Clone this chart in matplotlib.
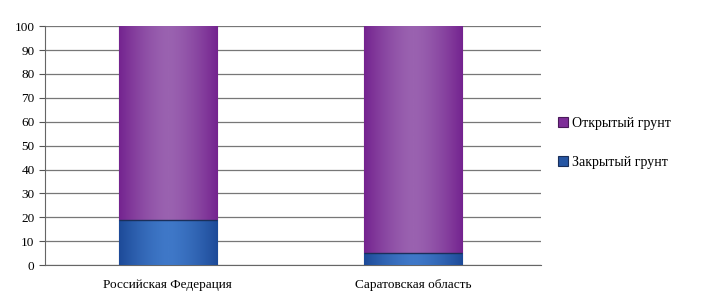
import numpy as np
import matplotlib.pyplot as plt
from matplotlib.colors import LinearSegmentedColormap

plt.rcParams['font.family'] = ['Liberation Serif', 'DejaVu Serif']

categories = ['Российская Федерация', 'Саратовская область']
closed_ground = [19, 5]      # Закрытый грунт
open_ground = [81, 95]       # Открытый грунт

fig = plt.figure(figsize=(7.09, 3.04), dpi=100)
ax = fig.add_axes([0.0635, 0.128, 0.699, 0.786])

x = np.arange(len(categories))
width = 0.4

bars_closed = ax.bar(x, closed_ground, width, color='#2656a3', edgecolor='#1a2f5a',
                     linewidth=0.8, label='Закрытый грунт', zorder=3)
bars_open = ax.bar(x, open_ground, width, bottom=closed_ground, color='#7e2e98',
                   edgecolor='#4a1a5a', linewidth=0.8, label='Открытый грунт', zorder=3)

# horizontal gradient inside each bar (dark edges, light middle)
grad = np.abs(np.linspace(-1, 1, 256)) ** 1.5
grad = np.vstack([grad, grad])
cm_blue = LinearSegmentedColormap.from_list('b', ['#3f78c8', '#1d4a98'])
cm_purp = LinearSegmentedColormap.from_list('p', ['#9a62b0', '#74238f'])
for bars, cm in ((bars_closed, cm_blue), (bars_open, cm_purp)):
    for b in bars:
        x0, y0 = b.get_x(), b.get_y()
        im = ax.imshow(grad, cmap=cm, aspect='auto', zorder=3.5,
                       extent=[x0, x0 + b.get_width(), y0, y0 + b.get_height()])
        im.set_clip_path(b)

# thin dark line where the segments meet
ax.hlines(closed_ground, x - width / 2, x + width / 2, color='#1a2f5a', linewidth=1, zorder=4)

ax.set_xlim(-0.5, 1.52)
ax.set_ylim(0, 100)
ax.set_yticks(range(0, 101, 10))
ax.set_xticks(x)
ax.set_xticklabels(categories, fontsize=9.5)
ax.tick_params(axis='y', labelsize=9.5, length=4, color='#555555')
ax.tick_params(axis='x', length=0, pad=10)
ax.grid(axis='y', color='#777777', linewidth=0.9, zorder=0)
for s in ['top', 'right']:
    ax.spines[s].set_visible(False)
ax.spines['left'].set_color('#666666')
ax.spines['bottom'].set_color('#666666')

handles, labels = ax.get_legend_handles_labels()
fig.legend(handles[::-1], labels[::-1], loc='center left', bbox_to_anchor=(0.77, 0.53),
           frameon=False, fontsize=10, handlelength=0.7, handleheight=0.7,
           handletextpad=0.3, labelspacing=1.9)

fig.savefig('out.png', dpi=100)
